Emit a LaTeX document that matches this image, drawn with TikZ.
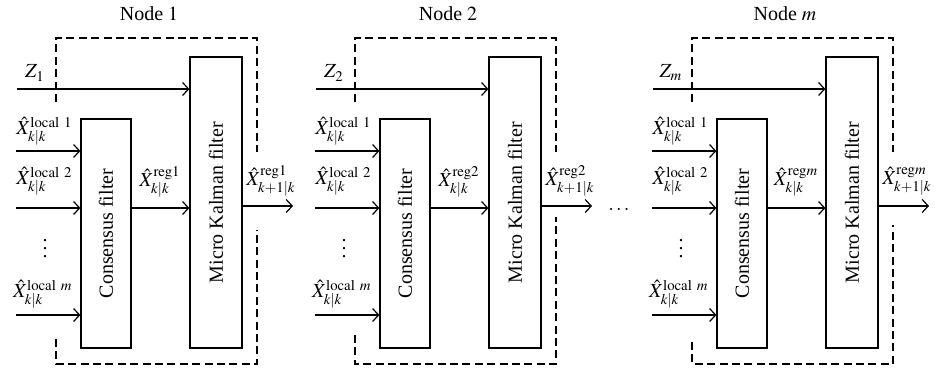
\documentclass[tikz,border=0pt]{standalone}
\usepackage{mathptmx}
\usepackage{fontspec}
\setmainfont{Liberation Serif}
\usetikzlibrary{arrows.meta}
\begin{document}
\begin{tikzpicture}[x=0.5pt,y=-0.5pt,font=\fontsize{10}{12}\selectfont,
  box/.style={draw,line width=0.6pt,inner sep=0pt},
  arr/.style={-{Straight Barb[length=3pt,width=6.5pt]},line width=0.6pt},
  frame/.style={dash pattern=on 4pt off 2.2pt,line width=0.6pt},
  lbl/.style={inner sep=0pt}]
\useasboundingbox (0,0) rectangle (935,372);
\foreach \i/\dx/\z/\rb/\lb in {1/0/1/230/339, 2/299/2/217/335, 3/636/m/225/342}{
\begin{scope}[shift={(\dx,0)}]
  \node[box,minimum width=25pt,minimum height=114.5pt] (cons\i) at (106,233.5) {\rotatebox{90}{Consensus filter}};
  \node[box,minimum width=26pt,minimum height=145.5pt] (kal\i) at (216,202.5) {\rotatebox{90}{Micro Kalman filter}};
  \node (title\i) at (149,14) {Node $\z$};
  % measurement input
  \coordinate (zs\i) at (17,89);
  \node[lbl] (zl\i) at (35,73) {$Z_{\z}$};
  \draw[arr] (zs\i) -- (zs\i -| kal\i.west);
  % local estimate inputs
  \coordinate (a\i) at (16,151);
  \coordinate (b\i) at (16,208);
  \coordinate (c\i) at (16,315);
  \draw[arr] (a\i) -- (a\i -| cons\i.west);
  \draw[arr] (b\i) -- (b\i -| cons\i.west);
  \draw[arr] (c\i) -- (c\i -| cons\i.west);
  \node[lbl,anchor=east] (la\i) at (73,131) {$\hat{X}_{k|k}^{\mathrm{local\ 1}}$};
  \node[lbl,anchor=east] (lb\i) at (73,181) {$\hat{X}_{k|k}^{\mathrm{local\ 2}}$};
  \node[lbl,anchor=east] (lc\i) at (73,294) {$\hat{X}_{k|k}^{\mathrm{local}\ m}$};
  \node (vd\i) at (45,243) {$\vdots$};
  % consensus -> kalman
  \draw[arr] (cons\i.east |- b\i) -- (kal\i.west |- b\i);
  \node[lbl] (lm\i) at (160,182) {$\hat{X}_{k|k}^{\mathrm{reg}\z}$};
  % output
  \coordinate (o\i) at (293,206);
  \draw[arr] (kal\i.east |- o\i) -- (o\i);
  \node[lbl] (lo\i) at (271,181) {$\hat{X}_{k+1|k}^{\mathrm{reg}\z}$};
  % dashed node frame
  \draw[frame] (56,102) -- (56,38) -- (257,38) -- (257,152);
  \draw[frame] (56,\lb) -- (56,364) -- (257,364) -- (257,\rb);
\end{scope}
}
\node (dots) at (619,209) {$\ldots$};
\end{tikzpicture}
\end{document}
